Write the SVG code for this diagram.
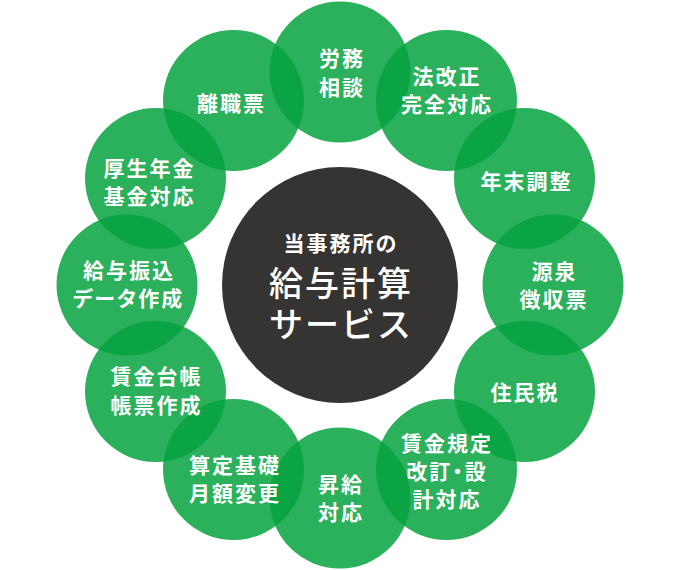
<svg xmlns="http://www.w3.org/2000/svg" width="680" height="570" viewBox="0 0 680 570">
<style>
.c{fill:#06a23f;fill-opacity:.85}
.t{font-family:"Noto Sans CJK JP","Noto Sans",sans-serif;font-size:21px;font-weight:700;fill:#fff;text-anchor:middle;letter-spacing:2px}
.p{font-feature-settings:"palt"}
.m{font-family:"Noto Sans CJK JP","Noto Sans",sans-serif;fill:#fff;text-anchor:middle;letter-spacing:2px}
</style>
<rect width="680" height="570" fill="#fff"/>
<g id="connectors"></g>
<g id="center">
<circle cx="340" cy="285" r="118" fill="#353433"/>
<text class="m" x="341" y="250.5" font-size="21" font-weight="700">当事務所の</text>
<text class="m" x="341" y="296" font-size="34" font-weight="500">給与計算</text>
<text class="m" x="341" y="336.5" font-size="34" font-weight="500">サービス</text>
</g>
<g id="roumu">
<circle class="c" cx="340" cy="72" r="70.5"/>
<text class="t" x="342" y="65.5">労務</text>
<text class="t" x="342" y="95">相談</text>
</g>
<g id="rishoku">
<circle class="c" cx="233.5" cy="100.5" r="70.5"/>
<text class="t" x="231.5" y="110.5">離職票</text>
</g>
<g id="houkaisei">
<circle class="c" cx="446.5" cy="100.5" r="70.5"/>
<text class="t" x="447" y="83.5">法改正</text>
<text class="t" x="447" y="111.5">完全対応</text>
</g>
<g id="nenmatsu">
<circle class="c" cx="524.5" cy="178.5" r="70.5"/>
<text class="t" x="526.5" y="188.5">年末調整</text>
</g>
<g id="gensen">
<circle class="c" cx="553" cy="285" r="70.5"/>
<text class="t" x="554.5" y="278.5">源泉</text>
<text class="t" x="554" y="306.5">徴収票</text>
</g>
<g id="juminzei">
<circle class="c" cx="524.5" cy="391.5" r="70.5"/>
<text class="t" x="525" y="400">住民税</text>
</g>
<g id="shoukyu">
<circle class="c" cx="340" cy="498" r="70.5"/>
<text class="t" x="341" y="491.5">昇給</text>
<text class="t" x="341" y="520">対応</text>
</g>
<g id="chinginkitei">
<circle class="c" cx="446.5" cy="469.5" r="70.5"/>
<text class="t" x="447" y="451">賃金規定</text>
<text class="t p" x="447" y="478.5">改訂・設</text>
<text class="t" x="447" y="506.5">計対応</text>
</g>
<g id="santei">
<circle class="c" cx="233.5" cy="469.5" r="70.5"/>
<text class="t" x="235" y="473">算定基礎</text>
<text class="t" x="235" y="500.5">月額変更</text>
</g>
<g id="daichou">
<circle class="c" cx="155.5" cy="391.5" r="70.5"/>
<text class="t" x="156.5" y="383.5">賃金台帳</text>
<text class="t" x="156.5" y="412.5">帳票作成</text>
</g>
<g id="furikomi">
<circle class="c" cx="127" cy="285" r="70.5"/>
<text class="t" x="129" y="278">給与振込</text>
<text class="t p" x="128.5" y="306">データ作成</text>
</g>
<g id="kousei">
<circle class="c" cx="155.5" cy="178.5" r="70.5"/>
<text class="t" x="149.5" y="175.5">厚生年金</text>
<text class="t" x="149.5" y="204">基金対応</text>
</g>
</svg>
